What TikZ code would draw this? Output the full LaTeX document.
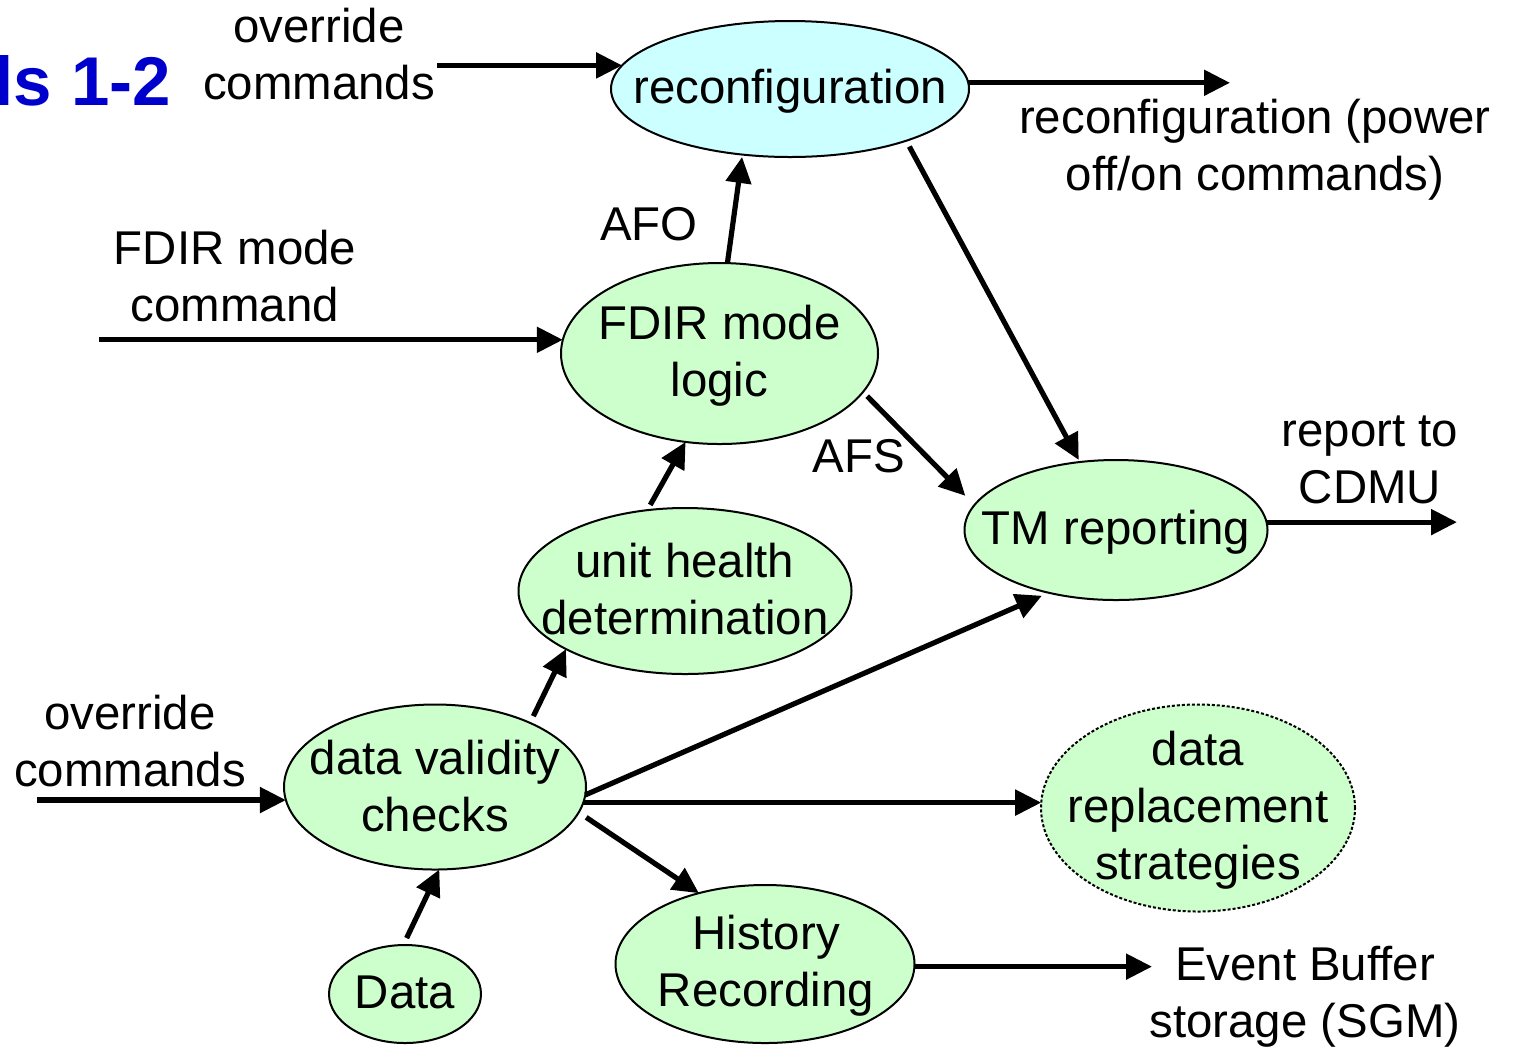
\documentclass[tikz,border=0pt]{standalone}
\usepackage{fontspec}
\setmainfont{Liberation Sans}
\usetikzlibrary{arrows.meta,shapes.geometric}
\definecolor{bubblegreen}{RGB}{204,255,204}
\definecolor{bubblecyan}{RGB}{204,255,255}
\definecolor{titleblue}{RGB}{0,0,204}

\begin{document}
\begin{tikzpicture}[x=0.5pt,y=-0.5pt,
  bubble/.style={ellipse, draw=black, line width=1pt, fill=bubblegreen,
    inner sep=0pt, outer sep=0pt},
  % multi-line texts are placed by their top edge
  txt/.style={inner sep=0pt, outer sep=0pt, align=center, anchor=north,
    font=\fontsize{23.7}{28.5}\selectfont,
    execute at begin node={\rule{0pt}{20pt}}},
  word/.style={inner sep=0pt, outer sep=0pt, anchor=base,
    font=\fontsize{23.7}{28.5}\selectfont},
  flow/.style={line width=2.6pt, -{Triangle[length=13pt,width=12.5pt]}},
]
\useasboundingbox (0,0) rectangle (1513,1046);

% title fragment
\node[anchor=base west, inner sep=0pt, text=titleblue,
  font=\bfseries\fontsize{34.5}{40}\selectfont] (title) at (-6,105) {ls 1-2};

% process bubbles
\node[bubble, fill=bubblecyan, minimum width=179pt, minimum height=68pt] (reconf) at (790,89) {};
\node[bubble, minimum width=158.5pt, minimum height=90.5pt] (fdir) at (719.5,353.5) {};
\node[bubble, minimum width=151.5pt, minimum height=70pt] (tm) at (1116,530) {};
\node[bubble, minimum width=166.5pt, minimum height=83pt] (uhd) at (685,591) {};
\node[bubble, minimum width=151pt, minimum height=82.5pt] (dvc) at (435,787) {};
\node[bubble, dash pattern=on 1.5pt off 1pt, minimum width=157pt, minimum height=103.5pt] (dr) at (1198,808) {};
\node[bubble, minimum width=149.5pt, minimum height=79pt] (hist) at (765,964) {};
\node[bubble, minimum width=76pt, minimum height=49pt] (data) at (405,994) {};

% bubble texts
\node[word] (reconf-t) at (790,103.5) {reconfiguration};
\node[txt] (fdir-t) at (719.5,305.3) {FDIR mode\\logic};
\node[word] (tm-t) at (1116,544) {TM reporting};
\node[txt] (uhd-t) at (685,542.7) {unit health\\determination};
\node[txt] (dvc-t) at (435,739.7) {data validity\\checks};
\node[txt] (dr-t) at (1198,731.3) {data\\replacement\\strategies};
\node[txt] (hist-t) at (766,915.5) {History\\Recording};
\node[word] (data-t) at (405,1008.3) {Data};

% free-standing labels
\node[txt] (ovtop) at (319,7.7) {override\\commands};
\node[txt] (reconfout) at (1255,99) {reconfiguration (power\\off/on commands)};
\node[word] (afo) at (649,240) {AFO};
\node[txt] (fdircmd) at (235,230.3) {FDIR mode\\command};
\node[word] (afs) at (859,472.7) {AFS};
\node[txt] (report) at (1370,416.3) {report to\\CDMU};
\node[txt] (ovleft) at (130,694.7) {override\\commands};
\node[txt] (event) at (1305,946) {Event Buffer\\storage (SGM)};

% loose ends of the external flows
\coordinate (ovtop-src) at (437,66);
\coordinate (reconf-out) at (1230,81);
\coordinate (fdircmd-src) at (99,341);
\coordinate (report-out) at (1457,520);
\coordinate (ovleft-src) at (37,801);
\coordinate (event-out) at (1152,969);

% flows
\draw[flow] (ovtop-src |- reconf.172) -- (reconf.172);
\draw[flow] (reconf.2.5) -- (reconf.2.5 -| reconf-out);
\draw[flow, shorten <=3.3pt, shorten >=1.2pt] (reconf.-24.4) -- (tm.118.5);
\draw[flow, shorten >=1.2pt] (fdir.85.3) -- (reconf.234.2);
\draw[flow] (fdircmd-src |- fdir.175.5) -- (fdir.175.5);
\draw[flow, shorten <=3pt, shorten >=6.5pt] (fdir.-15.8) -- (tm.170);
\draw[flow] (tm.3.8) -- (tm.3.8 -| report-out);
\draw[flow, shorten <=3pt] (uhd.115.7) -- (fdir.249.2);
\draw[flow, shorten <=3.75pt] (dvc.34.3) -- (uhd.206.4);
\draw[flow, shorten >=3.75pt] (dvc.-3) -- (tm.223.6);
\draw[flow] (dvc.-6) -- (dvc.-6 -| dr.178);
\draw[flow, shorten <=4.5pt] (dvc.-10.2) -- (hist.133.8);
\draw[flow, shorten <=3.85pt] (data.92.6) -- (dvc.-87.1);
\draw[flow] (ovleft-src |- dvc.185.5) -- (dvc.185.5);
\draw[flow] (hist.-1.9) -- (hist.-1.9 -| event-out);
\end{tikzpicture}
\end{document}
